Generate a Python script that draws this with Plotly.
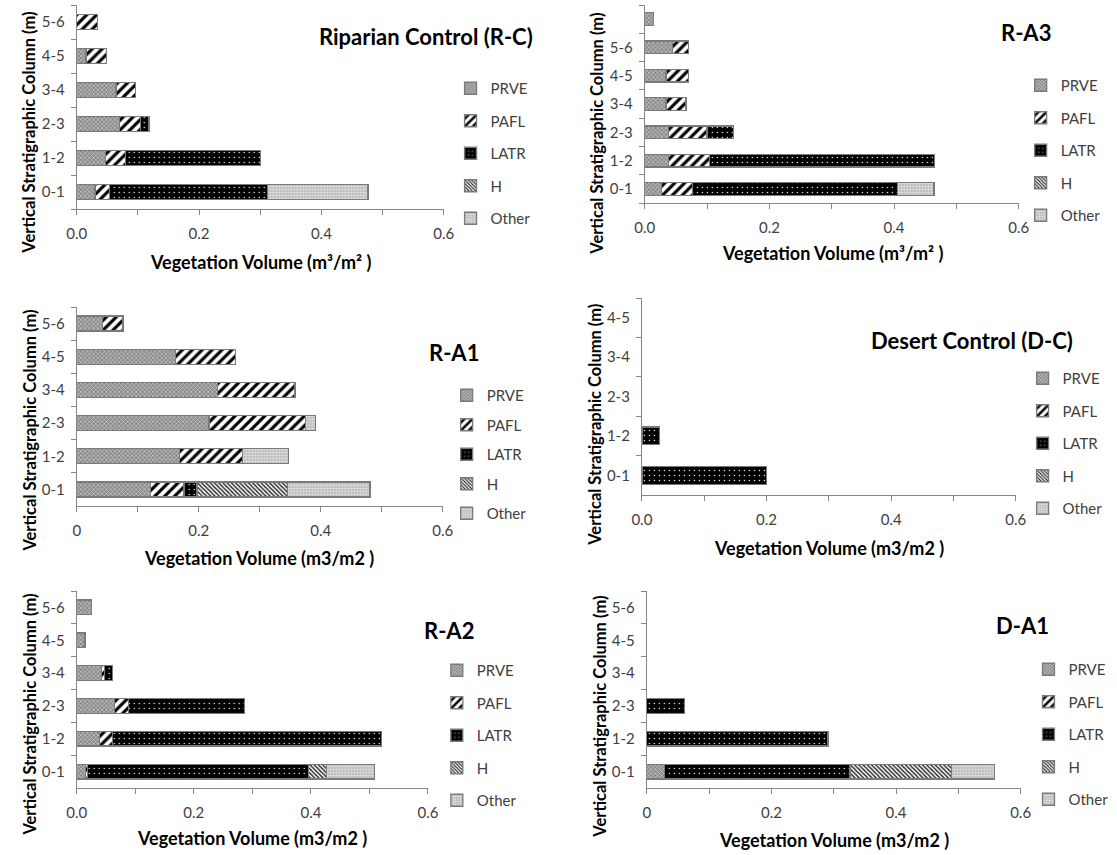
import plotly.graph_objects as go

W, H = 1117, 855

# ---------------- data ----------------
species = ["PRVE", "PAFL", "LATR", "H", "Other"]

cats6 = ["0-1", "1-2", "2-3", "3-4", "4-5", "5-6"]
cats_ra3 = ["0-1", "1-2", "2-3", "3-4", "4-5", "5-6", " "]
cats_dc = ["0-1", "1-2", "2-3", "3-4", "4-5"]

rc_prve = [0.030, 0.047, 0.070, 0.064, 0.015, 0.0]
rc_pafl = [0.024, 0.033, 0.034, 0.032, 0.034, 0.034]
rc_latr = [0.258, 0.220, 0.014, 0.0, 0.0, 0.0]
rc_h = [0.0, 0.0, 0.0, 0.0, 0.0, 0.0]
rc_other = [0.164, 0.0, 0.0, 0.0, 0.0, 0.0]

ra3_prve = [0.027, 0.038, 0.038, 0.034, 0.034, 0.044, 0.014]
ra3_pafl = [0.050, 0.066, 0.062, 0.032, 0.036, 0.026, 0.0]
ra3_latr = [0.329, 0.361, 0.042, 0.0, 0.0, 0.0, 0.0]
ra3_h = [0.0, 0.0, 0.0, 0.0, 0.0, 0.0, 0.0]
ra3_other = [0.058, 0.0, 0.0, 0.0, 0.0, 0.0, 0.0]

ra1_prve = [0.121, 0.168, 0.217, 0.231, 0.162, 0.042]
ra1_pafl = [0.055, 0.104, 0.158, 0.127, 0.098, 0.034]
ra1_latr = [0.021, 0.0, 0.0, 0.0, 0.0, 0.0]
ra1_h = [0.148, 0.0, 0.0, 0.0, 0.0, 0.0]
ra1_other = [0.136, 0.075, 0.017, 0.0, 0.0, 0.0]

dc_prve = [0.0, 0.0, 0.0, 0.0, 0.0]
dc_pafl = [0.0, 0.0, 0.0, 0.0, 0.0]
dc_latr = [0.200, 0.028, 0.0, 0.0, 0.0]
dc_h = [0.0, 0.0, 0.0, 0.0, 0.0]
dc_other = [0.0, 0.0, 0.0, 0.0, 0.0]

ra2_prve = [0.015, 0.039, 0.065, 0.042, 0.014, 0.025]
ra2_pafl = [0.003, 0.022, 0.024, 0.006, 0.0, 0.0]
ra2_latr = [0.378, 0.460, 0.198, 0.013, 0.0, 0.0]
ra2_h = [0.031, 0.0, 0.0, 0.0, 0.0, 0.0]
ra2_other = [0.082, 0.0, 0.0, 0.0, 0.0, 0.0]

da1_prve = [0.028, 0.0, 0.0, 0.0, 0.0, 0.0]
da1_pafl = [0.0, 0.0, 0.0, 0.0, 0.0, 0.0]
da1_latr = [0.298, 0.291, 0.061, 0.0, 0.0, 0.0]
da1_h = [0.163, 0.0, 0.0, 0.0, 0.0, 0.0]
da1_other = [0.069, 0.0, 0.0, 0.0, 0.0, 0.0]

x_tickvals = [0, 0.1, 0.2, 0.3, 0.4, 0.5, 0.6]
x_ticktext_a = ["0.0", "", "0.2", "", "0.4", "", "0.6"]
x_ticktext_b = ["0", "", "0.2", "", "0.4", "", "0.6"]

titles = ["Riparian Control (R-C)", "R-A3", "R-A1", "Desert Control (D-C)", "R-A2", "D-A1"]
xtitle_sup = "Vegetation Volume (m³/m² )"
xtitle_plain = "Vegetation Volume (m3/m2 )"
ytitle = "Vertical Stratigraphic Column (m)"

panels = [
    dict(cats=cats6, vals=[rc_prve, rc_pafl, rc_latr, rc_h, rc_other], ticktext=x_ticktext_a, xt=xtitle_sup),
    dict(cats=cats_ra3, vals=[ra3_prve, ra3_pafl, ra3_latr, ra3_h, ra3_other], ticktext=x_ticktext_a, xt=xtitle_sup),
    dict(cats=cats6, vals=[ra1_prve, ra1_pafl, ra1_latr, ra1_h, ra1_other], ticktext=x_ticktext_b, xt=xtitle_plain),
    dict(cats=cats_dc, vals=[dc_prve, dc_pafl, dc_latr, dc_h, dc_other], ticktext=x_ticktext_a, xt=xtitle_plain),
    dict(cats=cats6, vals=[ra2_prve, ra2_pafl, ra2_latr, ra2_h, ra2_other], ticktext=x_ticktext_a, xt=xtitle_plain),
    dict(cats=cats6, vals=[da1_prve, da1_pafl, da1_latr, da1_h, da1_other], ticktext=x_ticktext_b, xt=xtitle_plain),
]

# ---------------- layout geometry (pixels) ----------------
boxes = [  # x0, x1, ytop, ybottom
    (68, 442, 5, 209),
    (647, 1028, 5, 203),
    (68, 441, 307, 506),
    (644, 1025, 298, 495),
    (68, 426, 591, 788),
    (649, 1030, 591, 788),
]
# legend: (left x of legend box, y of first item centre, group gap)
legend_pos = [(449, 88, 10), (1030, 85, 10), (445, 395, 7), (1032, 378, 10), (435, 670, 10), (1038, 669, 10)]
title_pos = [(424, 37), (1035, 32), (452, 352), (980, 340), (447, 630), (1032, 625)]
ytitle_pos = [(19, 133), (598, 134), (20, 431), (596, 425), (20, 715), (601, 717)]
xtitle_pos = [(255, 262), (838, 253), (254, 558), (835, 548), (247, 838), (840, 840)]

FONT = "Lato"
GRAY = "#868686"
TXT = "#404040"

styles = {
    "PRVE": dict(shape="x", bgcolor="#8a8a8a", fgcolor="#d8d8d8", size=3, solidity=0.35),
    "PAFL": dict(shape="/", bgcolor="#ffffff", fgcolor="#000000", size=7, solidity=0.45),
    "LATR": dict(shape=".", bgcolor="#000000", fgcolor="#ffffff", size=5, solidity=0.06),
    "H": dict(shape="\\", bgcolor="#ffffff", fgcolor="#303030", size=3, solidity=0.5),
    "Other": dict(shape="+", bgcolor="#bdbdbd", fgcolor="#ececec", size=3, solidity=0.3),
}


def fx(px):
    return px / W


def fy(py):
    return 1 - py / H


fig = go.Figure()
annotations = []
layout = dict()

for i, p in enumerate(panels):
    n = i + 1
    sfx = "" if n == 1 else str(n)
    xa, ya = "x" + sfx, "y" + sfx
    leg = "legend" + sfx
    for name, vals in zip(species, p["vals"]):
        fig.add_trace(go.Bar(
            x=[v if v else None for v in vals], y=p["cats"], orientation="h",
            name=name, xaxis=xa, yaxis=ya, legend=leg, legendgroup=f"{n}-{name}",
            marker=dict(pattern=dict(fillmode="replace", **styles[name]),
                        line=dict(color="#7a7a7a", width=1.3)),
            showlegend=True,
        ))
    x0, x1, yt, yb = boxes[i]
    layout["xaxis" + sfx] = dict(
        domain=[fx(x0), fx(x1)], anchor=ya, range=[0, 0.6],
        tickvals=x_tickvals, ticktext=p["ticktext"], ticks="outside", ticklen=5,
        tickcolor=GRAY, showline=True, linecolor=GRAY, linewidth=1,
        showgrid=False, zeroline=False, ticklabelstandoff=6,
        tickfont=dict(family=FONT, size=15, color=TXT),
    )
    layout["yaxis" + sfx] = dict(
        domain=[fy(yb), fy(yt)], anchor=xa, type="category",
        categoryorder="array", categoryarray=p["cats"],
        tickson="boundaries", ticks="outside", ticklen=5, tickcolor=GRAY,
        showline=True, linecolor=GRAY, linewidth=1, showgrid=False, zeroline=False,
        ticklabelstandoff=8, tickfont=dict(family=FONT, size=15, color=TXT),
    )
    lx, ly, gap = legend_pos[i]
    layout[leg] = dict(
        x=fx(lx), y=fy(ly - 16), xanchor="left", yanchor="top", xref="paper", yref="paper",
        traceorder="grouped", tracegroupgap=gap, bgcolor="rgba(0,0,0,0)",
        font=dict(family=FONT, size=15, color=TXT), itemclick=False,
    )
    tx, ty = title_pos[i]
    annotations.append(dict(text=f"<b>{titles[i]}</b>", x=fx(tx), y=fy(ty), xref="paper", yref="paper",
                            xanchor="center", yanchor="middle", showarrow=False,
                            font=dict(family=FONT, size=22, color="#000000")))
    ax_, ay_ = ytitle_pos[i]
    annotations.append(dict(text=f"<b>{ytitle}</b>", x=fx(ax_), y=fy(ay_), xref="paper", yref="paper",
                            xanchor="center", yanchor="middle", textangle=-90, showarrow=False,
                            font=dict(family=FONT, size=16.5, color="#000000")))
    bx, by = xtitle_pos[i]
    annotations.append(dict(text=f"<b>{p['xt']}</b>", x=fx(bx), y=fy(by), xref="paper", yref="paper",
                            xanchor="center", yanchor="middle", showarrow=False,
                            font=dict(family=FONT, size=18, color="#000000")))

fig.update_layout(
    width=W, height=H, autosize=False, margin=dict(l=0, r=0, t=0, b=0),
    paper_bgcolor="white", plot_bgcolor="white",
    barmode="stack", bargap=0.55, annotations=annotations, **layout,
)

fig.write_html("out.html")
